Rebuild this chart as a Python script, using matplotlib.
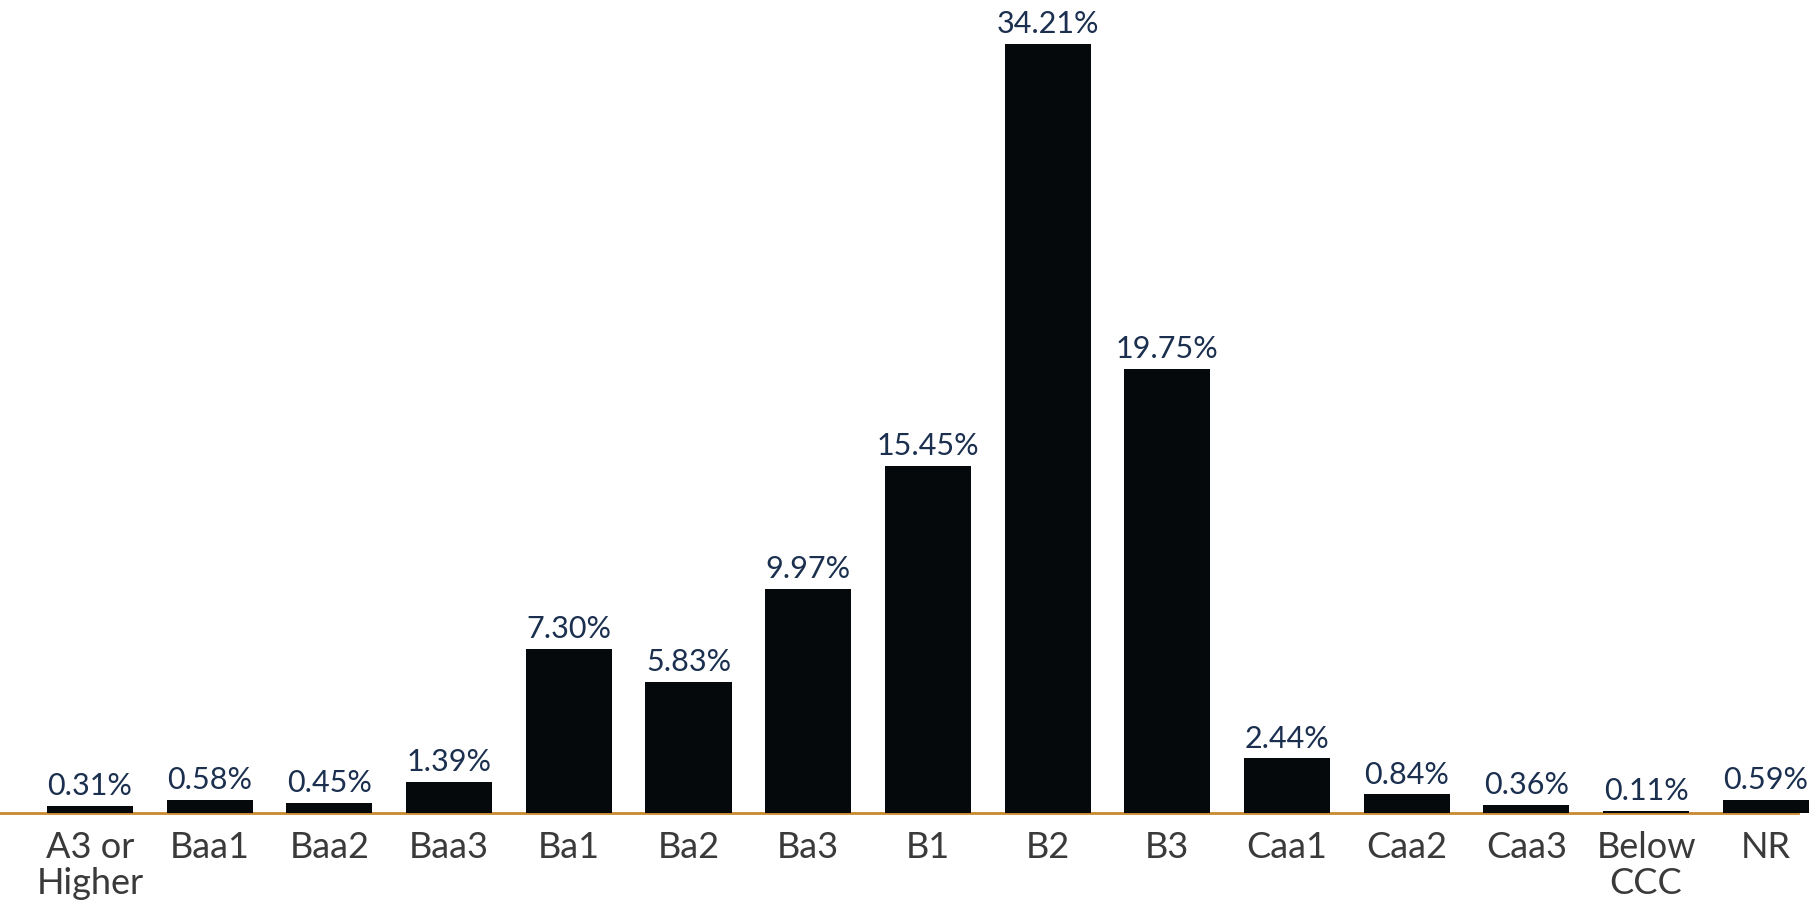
import numpy as np
import matplotlib
matplotlib.use("Agg")
import matplotlib.pyplot as plt

plt.rcParams['font.family'] = ['Lato', 'DejaVu Sans']

ratings = ["A3 or\nHigher", "Baa1", "Baa2", "Baa3", "Ba1", "Ba2", "Ba3", "B1", "B2",
           "B3", "Caa1", "Caa2", "Caa3", "Below\nCCC", "NR"]
shares = [0.31, 0.58, 0.45, 1.39, 7.30, 5.83, 9.97, 15.45, 34.21,
          19.75, 2.44, 0.84, 0.36, 0.11, 0.59]

c = {"bar": "#05090b",
     "value": "#1b2f4f",
     "cat": "#3a3a3a",
     "base": "#c98a2e"}

W, H = 1814, 905
fig = plt.figure(figsize=(W / 100, H / 100), dpi=100)
# axes run from the left edge to where the orange baseline stops
ax = fig.add_axes([0, 92 / H, 1798 / W, 813 / H])

x = np.arange(len(ratings))
bars = ax.bar(x, shares, width=0.72, color=c["bar"], clip_on=False, zorder=2)

step = 119.7  # px between bar centres
ax.set_xlim(-90 / step, -90 / step + 1798 / step)
ax.set_ylim(0, 813 / 22.48)

for xi, v in zip(x, shares):
    ax.annotate(f"{v:.2f}%", (xi, v), xytext=(0, 4), textcoords="offset points",
                ha="center", va="bottom", fontsize=22, color=c["value"])

ax.set_xticks(x)
ax.set_xticklabels(ratings, fontsize=26, color=c["cat"], linespacing=1.1)
ax.tick_params(axis="x", length=0, pad=13)
ax.set_yticks([])

for s in ["top", "right", "left"]:
    ax.spines[s].set_visible(False)
ax.spines["bottom"].set_color(c["base"])
ax.spines["bottom"].set_linewidth(2)
ax.spines["bottom"].set_zorder(1)
ax.patch.set_alpha(0)

fig.savefig("out.png", dpi=100)
